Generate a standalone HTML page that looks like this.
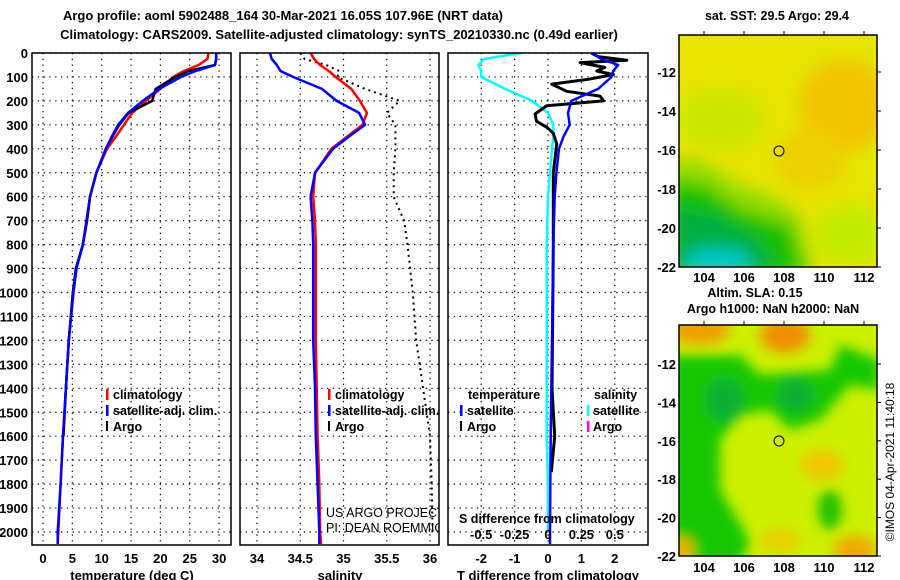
<!DOCTYPE html>
<html><head><meta charset="utf-8">
<style>
html,body{margin:0;padding:0;background:#fff;}
svg{display:block;font-family:"Liberation Sans",sans-serif;}
.b{font-weight:bold;font-size:13px;}
.t{font-weight:bold;font-size:12.5px;}
</style></head>
<body>
<svg id="chart" width="900" height="580" viewBox="0 0 900 580">
<defs>
<clipPath id="c1"><rect x="32" y="53" width="199" height="492"/></clipPath>
<clipPath id="c2"><rect x="240" y="53" width="199" height="492"/></clipPath>
<clipPath id="c3"><rect x="448" y="53" width="200" height="492"/></clipPath>
<clipPath id="m1"><rect x="679" y="35" width="198" height="232"/></clipPath>
<clipPath id="m2"><rect x="679" y="325" width="198" height="231"/></clipPath>
<filter id="bl" x="-50%" y="-50%" width="200%" height="200%"><feGaussianBlur stdDeviation="8"/></filter>
<filter id="bl2" x="-50%" y="-50%" width="200%" height="200%"><feGaussianBlur stdDeviation="6"/></filter>
</defs>
<text class="b" x="283" y="20" text-anchor="middle">Argo profile: aoml 5902488_164 30-Mar-2021 16.05S 107.96E (NRT data)</text>
<text class="b" x="339" y="39" text-anchor="middle">Climatology: CARS2009. Satellite-adjusted climatology: synTS_20210330.nc (0.49d earlier)</text>
<g id="grid"></g>
<g id="marks"></g>
<g id="axes"></g>

<g class="t">
<rect x="106" y="389" width="2.5" height="11" fill="#f00"/><text x="113" y="399">climatology</text>
<rect x="106" y="405" width="2.5" height="11" fill="#00f"/><text x="113" y="415">satellite-adj. clim.</text>
<rect x="106" y="421" width="2" height="10" fill="#000"/><text x="113" y="431">Argo</text>
</g>
<g class="t">
<rect x="328" y="389" width="2.5" height="11" fill="#f00"/><text x="335" y="399">climatology</text>
<rect x="328" y="405" width="2.5" height="11" fill="#00f"/><text x="335" y="415">satellite-adj. clim.</text>
<rect x="328" y="421" width="2" height="10" fill="#000"/><text x="335" y="431">Argo</text>
</g>
<g clip-path="url(#c2)" font-size="12.5">
<text x="326" y="517">US ARGO PROJECT</text>
<text x="326" y="532">PI: DEAN ROEMMICH</text>
</g>
<g class="t">
<text x="468" y="399">temperature</text>
<rect x="460" y="405" width="2.5" height="11" fill="#00f"/><text x="467" y="415">satellite</text>
<rect x="460" y="421" width="2" height="10" fill="#000"/><text x="467" y="431">Argo</text>
<text x="594" y="399">salinity</text>
<rect x="587" y="405" width="2.5" height="11" fill="#0ff"/><text x="593" y="415">satellite</text>
<rect x="587" y="421" width="2.5" height="11" fill="#f0f"/><text x="593" y="431">Argo</text>
<text x="459" y="523">S difference from climatology</text>
</g>

<text class="t" x="777" y="20" text-anchor="middle">sat. SST: 29.5 Argo: 29.4</text>
<g clip-path="url(#m1)">
<rect x="679" y="35" width="198" height="232" fill="#e6e400"/>
<g filter="url(#bl)">
<ellipse cx="845" cy="105" rx="45" ry="45" fill="#f2c400"/>
<ellipse cx="810" cy="160" rx="35" ry="30" fill="#ecd000"/>
<ellipse cx="720" cy="120" rx="45" ry="30" fill="#cce800"/>
<ellipse cx="850" cy="235" rx="35" ry="30" fill="#c4ec00"/>
<path d="M670 160 L700 160 L740 185 L770 195 L800 215 L815 275 L670 275Z" fill="#90dc00"/>
<path d="M670 180 L705 185 L740 210 L790 225 L805 275 L670 275Z" fill="#14c000"/>
<path d="M670 205 L720 215 L760 240 L780 275 L670 275Z" fill="#00b040"/>
<ellipse cx="718" cy="262" rx="34" ry="14" fill="#00c8c8"/>
</g>
<circle cx="779" cy="151" r="5" fill="none" stroke="#000"/>
</g>
<rect x="679" y="35" width="198" height="232" fill="none" stroke="#000" stroke-width="1.5"/>
<text class="t" x="755" y="297" text-anchor="middle">Altim. SLA: 0.15</text>
<text class="t" x="773" y="313" text-anchor="middle">Argo h1000: NaN h2000: NaN</text>
<g clip-path="url(#m2)">
<rect x="679" y="325" width="198" height="231" fill="#ccf000"/>
<g filter="url(#bl2)">
<ellipse cx="700" cy="330" rx="30" ry="15" fill="#f0a000"/>
<ellipse cx="785" cy="335" rx="25" ry="18" fill="#f09000"/>
<path d="M670 355 L740 355 L760 375 L830 370 L840 345 L880 360 L880 390 L850 385 L820 420 L790 430 L770 410 L740 415 L720 440 L720 490 L750 540 L740 565 L670 565Z" fill="#18c800"/>
<ellipse cx="725" cy="400" rx="20" ry="22" fill="#10b030"/>
<ellipse cx="795" cy="395" rx="18" ry="18" fill="#10b030"/>
<ellipse cx="830" cy="510" rx="12" ry="20" fill="#20c000"/>
<ellipse cx="822" cy="465" rx="22" ry="15" fill="#f0c800"/>
<ellipse cx="855" cy="550" rx="22" ry="14" fill="#f0a800"/>
<ellipse cx="680" cy="550" rx="14" ry="12" fill="#f0b000"/>
<ellipse cx="780" cy="540" rx="20" ry="12" fill="#e8d000"/>
</g>
<circle cx="779" cy="441" r="5" fill="none" stroke="#000"/>
</g>
<rect x="679" y="325" width="198" height="231" fill="none" stroke="#000" stroke-width="1.5"/>
<text transform="translate(894,462) rotate(-90)" font-size="12" text-anchor="middle">©IMOS 04-Apr-2021 11:40:18</text>
</svg>
<script>
const depths = [0,25,50,75,100,150,200,250,300,350,400,500,600,700,800,900,1000,1200,1400,1600,1800,2000,2050];
const tempClim = [28.2,28.0,26.5,24.0,22.2,20.0,17.5,15.2,13.8,12.4,10.9,9.1,8.0,7.5,6.8,5.6,5.1,4.4,3.9,3.4,3.0,2.6,2.5];
const tempSat = [29.5,29.5,29.3,26.0,23.5,19.8,17.0,14.5,12.8,11.7,10.7,9.1,8.0,7.4,6.8,5.7,5.2,4.4,3.9,3.4,3.0,2.5,2.5];
const tempArgo = [29.5,29.5,29.3,24.8,22.5,19.2,18.6,14.6,13.0,11.8,10.7,9.1,8.0,7.5,6.8,5.6,5.1,4.4,3.9,3.5,null,null,null];
const salClim = [34.62,34.66,34.73,34.83,34.91,35.09,35.19,35.27,35.22,35.04,34.86,34.67,34.65,34.67,34.68,34.68,34.68,34.68,34.69,34.70,34.72,34.73,34.74];
const salSat = [34.15,34.17,34.23,34.27,34.42,34.75,34.92,35.18,35.25,35.06,34.88,34.67,34.62,34.64,34.65,34.65,34.65,34.65,34.67,34.68,34.70,34.72,34.72];
const salArgo = [34.5,34.55,34.8,34.95,34.93,35.25,35.65,35.5,35.6,35.6,35.6,35.58,35.58,35.7,35.74,35.77,35.8,35.84,35.92,36.0,36.02,36.03,null];
const tDiffSat = [1.3,1.6,2.1,1.95,1.9,1.5,0.7,0.6,0.65,0.46,0.33,0.25,0.2,0.18,0.16,0.15,0.14,0.12,0.1,0.08,0.07,0.06,0.06];
const argoDiffDepths = [0,15,30,40,60,75,90,110,130,160,180,200,220,255,285,310,335,380,500,800,1100,1400,1600,1750];
const tDiffArgo = [1.3,1.5,2.36,0.96,1.7,1.46,1.96,1.2,0.11,0.56,1.56,1.66,-0.04,-0.39,-0.34,-0.04,0.16,0.26,0.16,0.16,0.14,0.12,0.2,0.1];
const sDiffSat = [-0.2,-0.48,-0.52,-0.5,-0.5,-0.32,-0.12,0.0,0.04,0.04,0.03,0.015,0.0,-0.005,-0.01,-0.01,-0.01,-0.01,-0.01,-0.01,0.0,0.0,null];
const depthTicks = [0,100,200,300,400,500,600,700,800,900,1000,1100,1200,1300,1400,1500,1600,1700,1800,1900,2000];
const tempTicks = [0,5,10,15,20,25,30];
const salTicks = [34,34.5,35,35.5,36];
const salTickLabels = ["34","34.5","35","35.5","36"];
const tDiffTicks = [-2,-1,0,1,2];
const sDiffTicks = [-0.5,-0.25,0,0.25,0.5];
const mapLonTicks = [104,106,108,110,112];
const mapLatTicks = [-12,-14,-16,-18,-20,-22];

const NS = 'http://www.w3.org/2000/svg';
const yD = z => 53 + z * 0.2395;
const xT = t => 43 + t * 5.87;
const xS = s => 257 + (s - 34) * 86.5;
const xTD = d => 548 + d * 33.4;
const xSD = d => 548 + d * 133.6;
const lonX = l => 704 + (l - 104) * 20;
const lat1Y = l => 72 + (-12 - l) * 19.5;
const lat2Y = l => 364 + (-12 - l) * 19.2;

function mk(tag, attrs, parent) {
  const e = document.createElementNS(NS, tag);
  for (const k in attrs) e.setAttribute(k, attrs[k]);
  parent.appendChild(e);
  return e;
}
const grid = document.getElementById('grid');
const marks = document.getElementById('marks');
const axes = document.getElementById('axes');
const panels = [{x:32,w:199,ticks:tempTicks,sx:xT,name:'temperature'},{x:240,w:199,ticks:salTicks,sx:xS,name:'salinity'},{x:448,w:200,ticks:tDiffTicks,sx:xTD,name:'t-difference'}];
panels.forEach(p => {
  depthTicks.forEach(z => {
    const l = mk('line', {x1:p.x, x2:p.x+p.w, y1:yD(z), y2:yD(z), stroke:'#000', 'stroke-width':1.2, 'stroke-dasharray':'1.3 4.5'}, grid);
    
    
  });
  p.ticks.forEach(v => {
    const l = mk('line', {x1:p.sx(v), x2:p.sx(v), y1:53, y2:545, stroke:'#000', 'stroke-width':1.2, 'stroke-dasharray':'1.3 4.5'}, grid);
    
    
  });
  const r = mk('rect', {x:p.x, y:53, width:p.w, height:492, fill:'none', stroke:'#000', 'stroke-width':1.5}, axes);
  
  
});
depthTicks.forEach(z => {
  const t = mk('text', {x:28, y:yD(z)+5, 'text-anchor':'end', class:'b'}, axes);
  t.textContent = z;
  
  
});
function xlabels(ticks, labels, sx, y) {
  ticks.forEach((v, i) => {
    const t = mk('text', {x:sx(v), y:y, 'text-anchor':'middle', class:'b'}, axes);
    t.textContent = labels[i];
    
    
  });
}
xlabels(tempTicks, tempTicks.map(String), xT, 563);
xlabels(salTicks, salTickLabels, xS, 563);
xlabels(tDiffTicks, tDiffTicks.map(String), xTD, 563);
xlabels(sDiffTicks, sDiffTicks.map(String), xSD, 539);
[['temperature (deg C)',132,'temperature-axis-title'],['salinity',340,'salinity-axis-title'],['T difference from climatology',548,'t-difference-axis-title']].forEach(a => {
  const t = mk('text', {x:a[1], y:580, 'text-anchor':'middle', class:'b'}, axes);
  t.textContent = a[0];
  
  
});
mapLonTicks.forEach(l => {
  [[282,'sst'],[572,'sla']].forEach(m => {
    const t = mk('text', {x:lonX(l), y:m[0], 'text-anchor':'middle', class:'b'}, axes);
    t.textContent = l;
    
    
  });
  mk('line', {x1:lonX(l), x2:lonX(l), y1:31, y2:35, stroke:'#000'}, axes);
  mk('line', {x1:lonX(l), x2:lonX(l), y1:321, y2:325, stroke:'#000'}, axes);
});
mapLatTicks.forEach(l => {
  [[lat1Y,'sst'],[lat2Y,'sla']].forEach(m => {
    const t = mk('text', {x:676, y:m[0](l)+5, 'text-anchor':'end', class:'b'}, axes);
    t.textContent = l;
    
    
    mk('line', {x1:877, x2:881, y1:m[0](l), y2:m[0](l), stroke:'#000'}, axes);
  });
});

function series(vals, ds, sx, color, w, clip, name, dash) {
  let d = '', pen = false;
  vals.forEach((v, i) => {
    if (v === null) { pen = false; return; }
    d += (pen ? 'L' : 'M') + sx(v).toFixed(1) + ' ' + yD(ds[i]).toFixed(1);
    pen = true;
  });
  const attrs = {d:d, fill:'none', stroke:color, 'stroke-width':w, 'clip-path':'url(#' + clip + ')', 'stroke-linejoin':'round'};
  if (dash) attrs['stroke-dasharray'] = dash;
  const p = mk('path', attrs, marks);
  
  
}
series(tempClim, depths, xT, '#f00', 2.5, 'c1', 'temperature-climatology-line');
series(tempArgo, depths, xT, '#000', 2.5, 'c1', 'temperature-argo-line');
series(tempSat, depths, xT, '#00f', 2.5, 'c1', 'temperature-satellite-line');
series(salArgo, depths, xS, '#000', 2, 'c2', 'salinity-argo-line', '2 4');
series(salClim, depths, xS, '#f00', 2.5, 'c2', 'salinity-climatology-line');
series(salSat, depths, xS, '#00f', 2.5, 'c2', 'salinity-satellite-line');
series(sDiffSat, depths, xSD, '#0ff', 2.5, 'c3', 's-difference-satellite-line');
series(tDiffArgo, argoDiffDepths, xTD, '#000', 3, 'c3', 't-difference-argo-line');
series(tDiffSat, depths, xTD, '#00f', 2.5, 'c3', 't-difference-satellite-line');
</script>
</body></html>
